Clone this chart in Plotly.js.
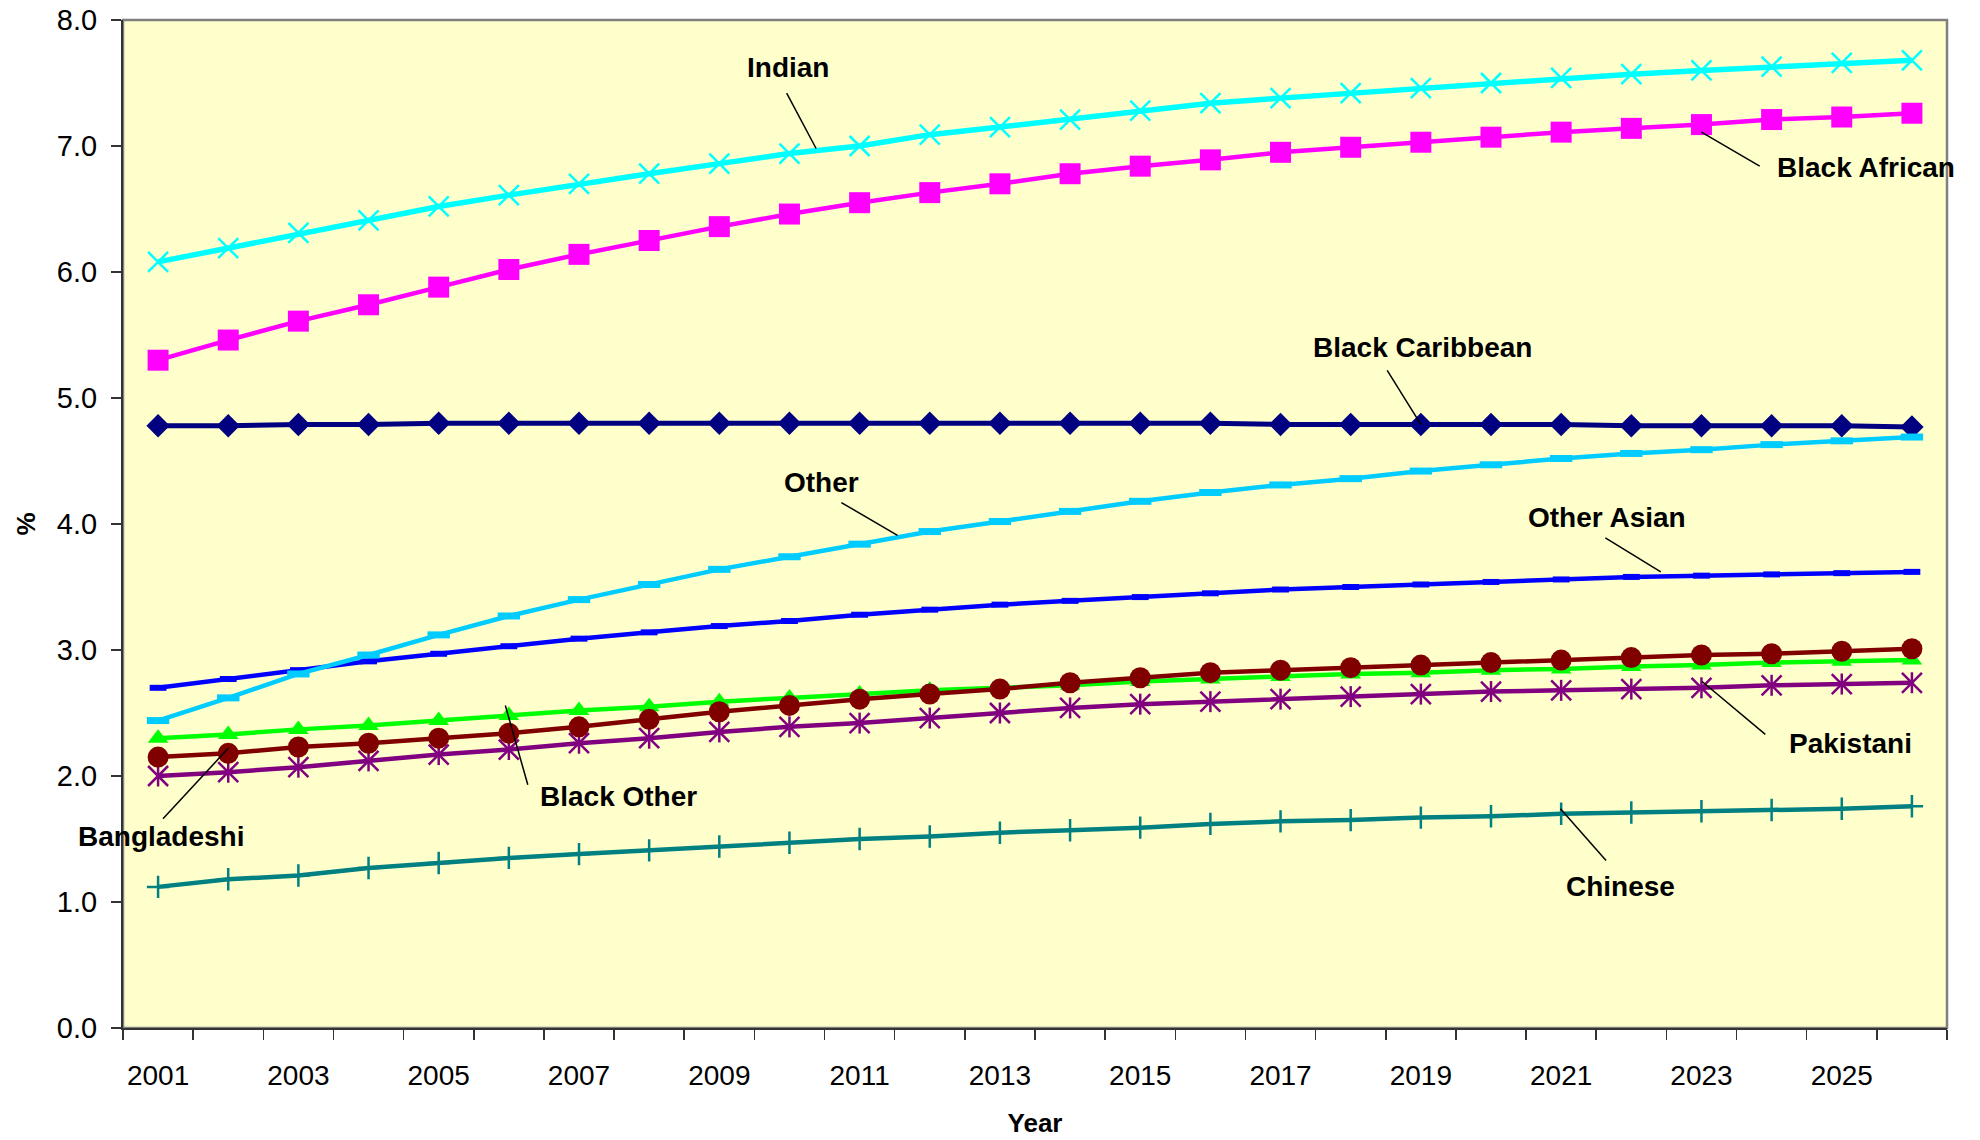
<!DOCTYPE html>
<html>
<head>
<meta charset="utf-8">
<script src="https://cdn.plot.ly/plotly-3.0.1.min.js"></script>
<style>
  html, body { margin: 0; padding: 0; background: #ffffff; }
  #chart { width: 1980px; height: 1140px; }
</style>
</head>
<body>
<div id="chart"></div>
<script>
// Projected share of the population by ethnic group, 2001-2026 (%)
const years = [2001, 2002, 2003, 2004, 2005, 2006, 2007, 2008, 2009, 2010, 2011, 2012, 2013,
               2014, 2015, 2016, 2017, 2018, 2019, 2020, 2021, 2022, 2023, 2024, 2025, 2026];

const blackCaribbean = [4.78, 4.78, 4.79, 4.79, 4.80, 4.80, 4.80, 4.80, 4.80, 4.80, 4.80, 4.80, 4.80,
                        4.80, 4.80, 4.80, 4.79, 4.79, 4.79, 4.79, 4.79, 4.78, 4.78, 4.78, 4.78, 4.77];
const blackAfrican   = [5.30, 5.46, 5.61, 5.74, 5.88, 6.02, 6.14, 6.25, 6.36, 6.46, 6.55, 6.63, 6.70,
                        6.78, 6.84, 6.89, 6.95, 6.99, 7.03, 7.07, 7.11, 7.14, 7.17, 7.21, 7.23, 7.26];
const blackOther     = [2.30, 2.33, 2.37, 2.40, 2.44, 2.48, 2.52, 2.55, 2.59, 2.62, 2.65, 2.68, 2.70,
                        2.72, 2.75, 2.77, 2.79, 2.81, 2.82, 2.84, 2.85, 2.87, 2.88, 2.90, 2.91, 2.92];
const indian         = [6.08, 6.19, 6.31, 6.41, 6.52, 6.61, 6.70, 6.78, 6.86, 6.94, 7.00, 7.09, 7.15,
                        7.21, 7.28, 7.34, 7.38, 7.42, 7.46, 7.50, 7.54, 7.57, 7.60, 7.63, 7.66, 7.68];
const pakistani      = [2.00, 2.03, 2.07, 2.12, 2.17, 2.21, 2.26, 2.30, 2.35, 2.39, 2.42, 2.46, 2.50,
                        2.54, 2.57, 2.59, 2.61, 2.63, 2.65, 2.67, 2.68, 2.69, 2.70, 2.72, 2.73, 2.74];
const bangladeshi    = [2.15, 2.18, 2.23, 2.26, 2.30, 2.34, 2.39, 2.45, 2.51, 2.56, 2.61, 2.65, 2.69,
                        2.74, 2.78, 2.82, 2.84, 2.86, 2.88, 2.90, 2.92, 2.94, 2.96, 2.97, 2.99, 3.01];
const chinese        = [1.12, 1.18, 1.21, 1.27, 1.31, 1.35, 1.38, 1.41, 1.44, 1.47, 1.50, 1.52, 1.55,
                        1.57, 1.59, 1.62, 1.64, 1.65, 1.67, 1.68, 1.70, 1.71, 1.72, 1.73, 1.74, 1.76];
const otherAsian     = [2.70, 2.77, 2.84, 2.91, 2.97, 3.03, 3.09, 3.14, 3.19, 3.23, 3.28, 3.32, 3.36,
                        3.39, 3.42, 3.45, 3.48, 3.50, 3.52, 3.54, 3.56, 3.58, 3.59, 3.60, 3.61, 3.62];
const other          = [2.44, 2.62, 2.81, 2.96, 3.12, 3.27, 3.40, 3.52, 3.64, 3.74, 3.84, 3.94, 4.02,
                        4.10, 4.18, 4.25, 4.31, 4.36, 4.42, 4.47, 4.52, 4.56, 4.59, 4.63, 4.66, 4.69];

const xTickYears  = [2001, 2003, 2005, 2007, 2009, 2011, 2013, 2015, 2017, 2019, 2021, 2023, 2025];
const xTickLabels = ['2001', '2003', '2005', '2007', '2009', '2011', '2013', '2015', '2017', '2019', '2021', '2023', '2025'];
const yTickValues = [0, 1, 2, 3, 4, 5, 6, 7, 8];
const yTickLabels = ['0.0', '1.0', '2.0', '3.0', '4.0', '5.0', '6.0', '7.0', '8.0'];

const FONT = 'Liberation Sans, Arial, Helvetica, sans-serif';
const AXIS_COLOR = '#333333';

function lineSeries(name, values, color, width, marker) {
  return {
    type: 'scatter',
    mode: 'lines+markers',
    name: name,
    x: years,
    y: values,
    line: { color: color, width: width },
    marker: Object.assign({ color: color }, marker),
    cliponaxis: false,
    hoverinfo: 'x+y+name'
  };
}

function openMarker(symbol, size, color, stroke) {
  return { symbol: symbol, size: size, color: color, line: { color: color, width: stroke } };
}

const traces = [
  lineSeries('Black Caribbean', blackCaribbean, '#000080', 5,   { symbol: 'diamond', size: 18 }),
  lineSeries('Black African',   blackAfrican,   '#FF00FF', 4.5, { symbol: 'square', size: 21 }),
  lineSeries('Black Other',     blackOther,     '#00FF00', 4.5, { symbol: 'triangle-up', size: 18 }),
  lineSeries('Indian',          indian,         '#00FFFF', 5.5, openMarker('x-thin-open', 20, '#00FFFF', 2.5)),
  lineSeries('Pakistani',       pakistani,      '#800080', 4.5, openMarker('x-thin-open', 20, '#800080', 2.5)),
  // vertical stroke completing the asterisk marker of the same series
  {
    type: 'scatter', mode: 'markers', name: 'Pakistani', showlegend: false, hoverinfo: 'skip',
    x: years, y: pakistani, cliponaxis: false,
    marker: openMarker('line-ns-open', 15, '#800080', 2.5)
  },
  lineSeries('Bangladeshi',     bangladeshi,    '#800000', 4.5, { symbol: 'circle', size: 21 }),
  lineSeries('Chinese',         chinese,        '#008080', 4.5, openMarker('cross-thin-open', 16, '#008080', 2.5)),
  lineSeries('Other Asian',     otherAsian,     '#0000FF', 4.5, openMarker('line-ew-open', 12, '#0000FF', 6)),
  lineSeries('Other',           other,          '#00CCFF', 4.5, openMarker('line-ew-open', 16, '#00CCFF', 7))
];

// Series labels: text centre and leader line (from -> to), in axis units
const callouts = [
  { text: 'Indian',          at: [2009.98, 7.62], from: [2009.96, 7.42], to: [2010.38, 6.98] },
  { text: 'Black African',   at: [2025.35, 6.83], from: [2023.83, 6.84], to: [2023.00, 7.11] },
  { text: 'Black Caribbean', at: [2019.02, 5.40], from: [2018.52, 5.22], to: [2019.00, 4.79] },
  { text: 'Other',           at: [2010.46, 4.33], from: [2010.74, 4.17], to: [2011.54, 3.91] },
  { text: 'Other Asian',     at: [2021.65, 4.05], from: [2021.63, 3.89], to: [2022.42, 3.62] },
  { text: 'Black Other',     at: [2007.56, 1.84], from: [2006.27, 1.93], to: [2005.95, 2.56] },
  { text: 'Bangladeshi',     at: [2001.04, 1.52], from: [2001.07, 1.66], to: [2002.00, 2.22] },
  { text: 'Pakistani',       at: [2025.13, 2.26], from: [2023.91, 2.33], to: [2023.01, 2.75] },
  { text: 'Chinese',         at: [2021.85, 1.12], from: [2021.64, 1.33], to: [2020.99, 1.74] }
];

const annotations = callouts.map(c => ({
  text: c.text,
  x: c.at[0], y: c.at[1], xref: 'x', yref: 'y',
  xanchor: 'center', yanchor: 'middle',
  showarrow: false,
  font: { family: FONT, size: 28, color: '#000000', weight: 'bold' }
}));

const shapes = [
  // plot area frame
  {
    type: 'rect', xref: 'paper', yref: 'paper', x0: 0, x1: 1, y0: 0, y1: 1,
    line: { color: '#808080', width: 2.5 }, fillcolor: 'rgba(0,0,0,0)', layer: 'below'
  }
].concat(callouts.map(c => ({
  type: 'line', xref: 'x', yref: 'y',
  x0: c.from[0], y0: c.from[1], x1: c.to[0], y1: c.to[1],
  line: { color: '#000000', width: 1.5 }
})));

const layout = {
  width: 1980,
  height: 1140,
  margin: { l: 123, r: 33, t: 20, b: 112, pad: 0 },
  paper_bgcolor: '#ffffff',
  plot_bgcolor: '#FFFFCC',
  showlegend: false,
  font: { family: FONT, size: 28, color: '#000000' },
  xaxis: {
    range: [2000.5, 2026.5],
    tickmode: 'array',
    tickvals: xTickYears,
    ticktext: xTickLabels,
    ticks: 'outside',
    ticklen: 10,
    tickcolor: 'rgba(0,0,0,0)',
    ticklabelstandoff: 11,
    minor: {
      tickmode: 'linear', tick0: 2000.5, dtick: 1,
      ticks: 'outside', ticklen: 10, tickwidth: 1.5, tickcolor: AXIS_COLOR, showgrid: false
    },
    tickfont: { family: FONT, size: 28, color: '#000000' },
    showline: true, linecolor: AXIS_COLOR, linewidth: 2,
    showgrid: false, zeroline: false, automargin: false,
    title: { text: 'Year', font: { family: FONT, size: 26, color: '#000000', weight: 'bold' }, standoff: 24 }
  },
  yaxis: {
    range: [0, 8],
    tickmode: 'array',
    tickvals: yTickValues,
    ticktext: yTickLabels,
    ticks: 'outside',
    ticklen: 10,
    tickwidth: 1.5,
    tickcolor: AXIS_COLOR,
    ticklabelstandoff: 8,
    tickfont: { family: FONT, size: 29, color: '#000000' },
    showline: true, linecolor: AXIS_COLOR, linewidth: 2,
    showgrid: false, zeroline: false, automargin: false,
    title: { text: '%', font: { family: FONT, size: 26, color: '#000000', weight: 'bold' }, standoff: 14 }
  },
  annotations: annotations,
  shapes: shapes
};

Plotly.newPlot('chart', traces, layout, { staticPlot: true, displayModeBar: false });
</script>
</body>
</html>
